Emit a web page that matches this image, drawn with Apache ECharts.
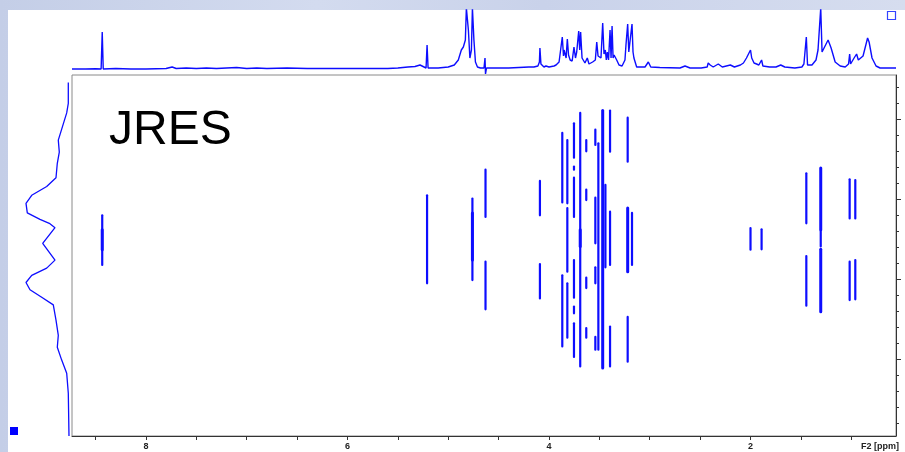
<!DOCTYPE html>
<html>
<head>
<meta charset="utf-8">
<title>JRES</title>
<script src="https://cdn.jsdelivr.net/npm/echarts@6/dist/echarts.min.js"></script>
<style>
  html, body { margin: 0; padding: 0; }
  body {
    width: 905px; height: 452px; position: relative; overflow: hidden;
    background: linear-gradient(90deg, #c4cee7 0%, #d3dbef 35%, #c9d2ea 60%, #d6ddef 100%);
  }
  #paper { position: absolute; left: 8px; top: 10px; right: 0; bottom: 0; background: #ffffff; }
  #chart { position: absolute; left: 0; top: 0; width: 905px; height: 452px; }
</style>
</head>
<body>
<div id="paper"></div>
<div id="chart"></div>
<script>
// Chemical-shift window (F2, ppm) and J-axis window (F1, Hz)
const f2Range = [0.556, 8.734];
const f1Range = [-24.59, 20.54];

// F2 axis ticks and labels
const f2Ticks = [8.5, 8, 7.5, 7, 6.5, 6, 5.5, 5, 4.5, 4, 3.5, 3, 2.5, 2, 1.5, 1];
const f2Labels = [8, 6, 4, 2];

// F1 axis ticks (right side)
const f1MinorTicks = [-23, -21, -19, -17, -15, -13, -11, -9, -7, -5, -3, -1, 1, 3, 5, 7, 9, 11, 13, 15, 17, 19];
const f1MajorTicks = [-15, -5, 5, 15];

// 1D reference spectrum along F2: [ppm, intensity]
const spectrum1D = [
  [8.734, 1], [8.60, 1], [8.50, 1.2], [8.445, 1], [8.434, 38], [8.424, 1],
  [8.30, 1.5], [8.15, 1], [8.00, 1], [7.80, 1.5], [7.74, 3], [7.70, 1.5], [7.60, 2],
  [7.50, 1.5], [7.40, 2], [7.30, 1.5], [7.20, 2], [7.10, 2.5], [7.00, 1.5], [6.90, 2],
  [6.80, 1.5], [6.60, 2], [6.40, 1.5], [6.20, 1.5], [6.00, 1.5], [5.80, 1.5], [5.60, 1.5],
  [5.50, 2], [5.40, 3], [5.33, 3.5], [5.28, 5], [5.24, 3], [5.22, 2], [5.21, 25], [5.20, 2],
  [5.10, 2], [5.00, 3], [4.94, 5], [4.90, 10], [4.87, 20], [4.85, 23], [4.83, 30],
  [4.82, 62], [4.80, 40], [4.785, 12], [4.77, 20], [4.76, 62], [4.745, 30], [4.73, 8],
  [4.71, 3], [4.68, 2], [4.645, 2], [4.635, 12], [4.63, -4], [4.62, 2], [4.50, 2],
  [4.40, 2], [4.30, 2.5], [4.20, 3], [4.19, 4], [4.15, 3], [4.11, 4], [4.095, 8], [4.09, 22],
  [4.08, 6], [4.05, 3], [4.03, 4], [4.00, 3], [3.95, 4], [3.93, 5], [3.90, 8],
  [3.868, 33], [3.856, 14], [3.85, 20], [3.83, 12], [3.818, 31], [3.806, 15], [3.79, 10],
  [3.77, 9], [3.752, 23], [3.737, 12], [3.725, 18], [3.705, 39], [3.695, 20], [3.686, 38],
  [3.672, 12], [3.66, 12], [3.643, 7], [3.62, 12], [3.603, 6], [3.567, 8], [3.54, 10],
  [3.526, 28], [3.513, 14], [3.503, 16], [3.484, 12], [3.467, 47], [3.454, 16], [3.441, 20],
  [3.431, 10], [3.421, 18], [3.409, 10], [3.394, 40], [3.384, 12], [3.374, 44], [3.364, 12],
  [3.354, 15], [3.328, 10], [3.305, 5], [3.275, 4], [3.246, 10], [3.236, 25], [3.219, 46],
  [3.208, 18], [3.196, 20], [3.176, 46], [3.166, 18], [3.157, 12], [3.13, 3], [3.097, 3],
  [3.047, 3], [3.014, 8], [2.99, 3], [2.90, 2.5], [2.70, 2], [2.65, 4], [2.60, 2], [2.49, 2],
  [2.43, 3], [2.42, 7], [2.40, 5], [2.37, 3], [2.32, 6], [2.28, 3], [2.20, 5], [2.16, 3],
  [2.10, 5], [2.07, 7], [2.04, 12], [2.00, 20], [1.988, 12], [1.965, 7], [1.94, 6],
  [1.917, 5], [1.89, 10], [1.877, 4], [1.81, 3], [1.747, 3], [1.70, 5], [1.66, 3], [1.56, 2],
  [1.49, 3], [1.47, 6], [1.446, 33], [1.434, 5], [1.39, 5], [1.35, 10], [1.33, 20],
  [1.303, 62], [1.29, 18], [1.27, 22], [1.23, 30], [1.20, 22], [1.16, 8], [1.11, 4],
  [1.06, 3], [1.027, 6], [1.016, 16], [1.007, 6], [0.992, 6], [0.972, 12], [0.947, 16],
  [0.93, 10], [0.913, 8], [0.883, 14], [0.853, 26], [0.838, 32], [0.823, 28], [0.794, 12],
  [0.754, 4], [0.714, 2], [0.615, 2], [0.556, 2]
];

// Projection along F1: [intensity, Hz]
const projectionF1 = [
  [0.7, 19.6], [0.7, 17.0], [2.3, 15.8], [10.7, 12.4], [9.7, 10.9], [11.7, 9.5], [13, 7.7],
  [22.3, 6.6], [37.3, 5.5], [43, 4.5], [41.7, 3.3], [29, 2.5], [19.7, 2.0], [14, 1.45],
  [26.3, -0.5], [14, -2.6], [22.3, -3.6], [37.3, -4.5], [43, -5.4], [39, -6.3], [27.3, -7.25],
  [15.7, -8.2], [13, -10.1], [10.7, -12.0], [11.7, -13.5], [7.3, -15.1], [2.3, -16.75],
  [0.7, -19.25], [0, -24.59]
];

// 2D J-resolved cross peaks: [ppm, F1 start (Hz), F1 end (Hz), contour level]
const peaksLowField = [
  [8.434, 3.0, -3.2, 1], [8.434, 1.2, -1.3, 2],
  [5.21, 5.5, -5.5, 1],
  [4.76, 5.1, -5.1, 1], [4.76, 3.3, -2.6, 2],
  [4.63, 8.7, 2.8, 1], [4.63, -2.8, -8.75, 1],
  [4.09, 7.3, 3.0, 1], [4.09, -3.1, -7.4, 1]
];
const peaksSugar = [
  [3.868, 13.3, 4.6, 1], [3.868, -4.5, -13.4, 1],
  [3.818, 12.4, 4.5, 1], [3.818, 3.9, -4.05, 1], [3.818, -5.5, -12.3, 1],
  [3.752, 14.5, 10.2, 1], [3.752, 9.1, 8.7, 1], [3.752, 7.7, 2.8, 1],
  [3.752, -2.6, -7.3, 1], [3.752, -8.4, -9.25, 1], [3.752, -10.5, -14.7, 1],
  [3.69, 15.8, -15.9, 1], [3.69, 1.2, -0.9, 2],
  [3.63, 12.4, 11.0, 1], [3.63, 6.2, 4.9, 1], [3.63, -4.8, -6.1, 1], [3.63, -11.1, -12.3, 1],
  [3.54, 13.7, 11.8, 1], [3.54, 5.2, -0.5, 1], [3.54, -3.5, -5.5, 1], [3.54, -12.2, -13.8, 1],
  [3.51, 12.0, -13.8, 1],
  [3.467, 16.1, -16.1, 2],
  [3.44, 6.8, -3.5, 1],
  [3.394, 16.1, 10.95, 1], [3.394, 3.45, -3.2, 1], [3.394, -10.9, -15.9, 1],
  [3.219, 15.2, 9.7, 1], [3.219, 3.9, -4.05, 2], [3.219, -9.7, -15.3, 1],
  [3.176, 3.3, -3.2, 1]
];
const peaksHighField = [
  [2.00, 1.4, -1.3, 1],
  [1.89, 1.25, -1.25, 1],
  [1.446, 8.25, 2.0, 1], [1.446, -2.1, -8.3, 1],
  [1.303, 8.9, 1.16, 2], [1.303, 0.95, -0.9, 1], [1.303, -1.25, -9.05, 2],
  [1.016, 7.5, 2.6, 1], [1.016, -2.8, -7.6, 1],
  [0.96, 7.4, 2.6, 1], [0.96, -2.6, -7.5, 1]
];

const BLUE = '#0d0dff';
const chart = echarts.init(document.getElementById('chart'), null, { renderer: 'canvas' });

// Each cross peak is drawn as a short vertical stroke along F1
function renderStreak(params, api) {
  const a = api.coord([api.value(0), api.value(1)]);
  const b = api.coord([api.value(0), api.value(2)]);
  const lvl = api.value(3);
  return {
    type: 'line',
    shape: { x1: a[0], y1: a[1], x2: b[0], y2: b[1] },
    style: { stroke: BLUE, lineWidth: lvl > 1 ? 3.0 : 2.2, lineCap: 'round' }
  };
}

const hiddenAxis = { show: false };
const tickFont = { fontFamily: 'Liberation Sans Narrow, Liberation Sans, Arial', fontSize: 9, fontWeight: 'bold', color: '#222' };

chart.setOption({
  animation: false,
  backgroundColor: 'transparent',
  grid: [
    { left: 72, top: 75, width: 824, height: 361, show: true, borderColor: '#8a8a8a', borderWidth: 1, backgroundColor: '#ffffff' },
    { left: 72, top: 10, width: 824, height: 65 },
    { left: 20, top: 75, width: 49, height: 361 }
  ],
  xAxis: [
    {
      gridIndex: 0, type: 'value', inverse: true, min: f2Range[0], max: f2Range[1], position: 'bottom',
      axisLine: { show: true, onZero: false, lineStyle: { color: '#333', width: 1 } },
      axisTick: { show: true, length: 4, customValues: f2Ticks, lineStyle: { color: '#333' } },
      axisLabel: Object.assign({ show: true, margin: 6, customValues: f2Labels }, tickFont),
      splitLine: { show: false }
    },
    Object.assign({ gridIndex: 1, type: 'value', inverse: true, min: f2Range[0], max: f2Range[1] }, hiddenAxis),
    Object.assign({ gridIndex: 2, type: 'value', inverse: true, min: 0, max: 49 }, hiddenAxis)
  ],
  yAxis: [
    {
      gridIndex: 0, type: 'value', position: 'right', min: f1Range[0], max: f1Range[1],
      axisLine: { show: true, onZero: false, lineStyle: { color: '#333' } },
      axisTick: { show: true, inside: false, length: 3, customValues: f1MinorTicks, lineStyle: { color: '#333' } },
      axisLabel: { show: false }, splitLine: { show: false }
    },
    {
      gridIndex: 0, type: 'value', position: 'right', min: f1Range[0], max: f1Range[1],
      axisLine: { show: false, onZero: false },
      axisTick: { show: true, inside: false, length: 5, customValues: f1MajorTicks, lineStyle: { color: '#333' } },
      axisLabel: { show: false }, splitLine: { show: false }
    },
    Object.assign({ gridIndex: 1, type: 'value', min: -5, max: 60 }, hiddenAxis),
    Object.assign({ gridIndex: 2, type: 'value', min: f1Range[0], max: f1Range[1] }, hiddenAxis)
  ],
  series: [
    {
      name: 'F2 spectrum', type: 'line', xAxisIndex: 1, yAxisIndex: 2, data: spectrum1D,
      showSymbol: false, clip: true, lineStyle: { color: BLUE, width: 1.4 }, z: 3
    },
    {
      name: 'F1 projection', type: 'line', xAxisIndex: 2, yAxisIndex: 3, data: projectionF1,
      showSymbol: false, clip: false, lineStyle: { color: BLUE, width: 1.3 }
    },
    { name: 'aromatic', type: 'custom', xAxisIndex: 0, yAxisIndex: 0, data: peaksLowField, renderItem: renderStreak, clip: true },
    { name: 'sugar', type: 'custom', xAxisIndex: 0, yAxisIndex: 0, data: peaksSugar, renderItem: renderStreak, clip: true },
    { name: 'aliphatic', type: 'custom', xAxisIndex: 0, yAxisIndex: 0, data: peaksHighField, renderItem: renderStreak, clip: true }
  ],
  graphic: [
    { type: 'text', left: 109, top: 107, style: { text: 'JRES', fontFamily: 'Liberation Sans, Arial', fontSize: 48, fill: '#000' }, z: 10 },
    { type: 'text', right: 6, top: 442, style: { text: 'F2 [ppm]', fontFamily: 'Liberation Sans Narrow, Liberation Sans, Arial', fontSize: 9, fontWeight: 'bold', fill: '#222' }, z: 10 },
    { type: 'rect', shape: { x: 10, y: 427, width: 8, height: 8 }, style: { fill: '#0000ff' }, z: 10 },
    { type: 'rect', shape: { x: 887.5, y: 11.5, width: 8, height: 8 }, style: { fill: '#ffffff', stroke: '#3344ff', lineWidth: 1.2 }, z: 10 }
  ]
});
</script>
</body>
</html>
